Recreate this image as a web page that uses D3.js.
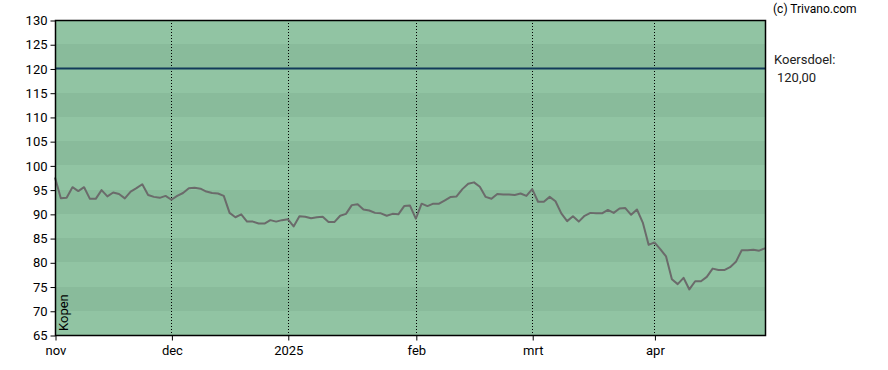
<html>
<head>
	<meta charset="UTF-8">
	<title>Koers</title>
	<script src="https://cdn.jsdelivr.net/npm/d3@7"></script>
	<style>
		body { padding: 0; margin: 0; background: #fff; }
		text { font-family: Roboto, "Liberation Sans", sans-serif; }
	</style>
</head>
<body>
	<script>
		var w = 888,
			h = 370,
			margin = { top: 20, right: 123, bottom: 35, left: 55 };

		// koers per handelsdag (nov 2024 - apr 2025)
		var prices = [
			97.5, 93.2, 93.3, 95.5, 94.7, 95.5, 93.1, 93.1, 94.9, 93.6,
			94.4, 94.1, 93.2, 94.6, 95.3, 96.1, 93.9, 93.5, 93.3, 93.7,
			92.9, 93.7, 94.3, 95.3, 95.4, 95.2, 94.6, 94.3, 94.2, 93.7,
			90.2, 89.3, 89.9, 88.4, 88.4, 88.0, 88.0, 88.7, 88.4, 88.7,
			88.9, 87.4, 89.5, 89.4, 89.1, 89.3, 89.4, 88.3, 88.3, 89.6,
			90.0, 91.8, 92.0, 90.9, 90.7, 90.2, 90.1, 89.6, 90.0, 89.9,
			91.6, 91.7, 89.0, 92.1, 91.6, 92.1, 92.1, 92.8, 93.5, 93.6,
			95.1, 96.2, 96.5, 95.6, 93.5, 93.1, 94.1, 94.0, 94.0, 93.9,
			94.2, 93.7, 95.1, 92.5, 92.5, 93.5, 92.6, 90.1, 88.5, 89.5,
			88.4, 89.6, 90.2, 90.1, 90.1, 90.8, 90.2, 91.1, 91.2, 89.8,
			90.9, 88.2, 83.6, 84.1, 82.7, 81.2, 76.5, 75.5, 76.8, 74.4,
			76.1, 76.1, 77.0, 78.7, 78.4, 78.4, 79.0, 80.1, 82.5, 82.5,
			82.6, 82.4, 82.9
		];

		var monthLabels = ["nov", "dec", "2025", "feb", "mrt", "apr"];
		var monthIndex = [0, 20, 40, 62, 82, 103];

		var yTicks = [65, 70, 75, 80, 85, 90, 95, 100, 105, 110, 115, 120, 125, 130];
		var target = 120;
		var advice = "Kopen";

		var x = d3.scaleLinear()
			.domain([0, prices.length - 1])
			.range([margin.left, w - margin.right]);
		var y = d3.scaleLinear()
			.domain([65, 130])
			.range([h - margin.bottom, margin.top]);

		var svg = d3.select("body").append("svg")
			.attr("width", w)
			.attr("height", h);

		// achtergrond + donkere banden van 5
		svg.append("rect")
			.attr("x", margin.left)
			.attr("y", margin.top)
			.attr("width", x.range()[1] - margin.left)
			.attr("height", h - margin.bottom - margin.top)
			.attr("fill", "#91c4a3");

		var bands = [70, 80, 90, 100, 110, 120];
		svg.selectAll("rect.band")
			.data(bands)
			.enter().append("rect")
			.attr("class", "band")
			.attr("shape-rendering", "crispEdges")
			.attr("x", margin.left)
			.attr("width", x.range()[1] - margin.left)
			.attr("y", function (d) { return Math.round(y(d + 5)); })
			.attr("height", function (d) { return Math.round(y(d)) - Math.round(y(d + 5)); })
			.attr("fill", "#89bb9b");

		// maand lijnen
		svg.selectAll("line.month")
			.data(monthIndex.slice(1))
			.enter().append("line")
			.attr("x1", function (d) { return Math.round(x(d)) + 0.5; })
			.attr("x2", function (d) { return Math.round(x(d)) + 0.5; })
			.attr("y1", margin.top)
			.attr("y2", h - margin.bottom)
			.attr("stroke", "#000")
			.attr("stroke-width", 1)
			.attr("stroke-dasharray", "1,2");

		// koersdoel
		svg.append("line")
			.attr("x1", margin.left)
			.attr("x2", x.range()[1])
			.attr("y1", y(target))
			.attr("y2", y(target))
			.attr("stroke", "#123a5a")
			.attr("stroke-width", 2);

		var line = d3.line()
			.x(function (d, i) { return x(i); })
			.y(function (d) { return y(d); });

		svg.append("path")
			.datum(prices)
			.attr("d", line)
			.attr("fill", "none")
			.attr("stroke", "#6b6b6b")
			.attr("stroke-width", 2)
			.attr("stroke-linejoin", "round");

		// frame
		svg.append("rect")
			.attr("x", margin.left + 0.5)
			.attr("y", margin.top + 0.5)
			.attr("width", x.range()[1] - margin.left)
			.attr("height", h - margin.bottom - margin.top)
			.attr("fill", "none")
			.attr("stroke", "#000")
			.attr("stroke-width", 1.5);

		var yAxis = d3.axisLeft(y).tickValues(yTicks).tickSize(5).tickPadding(3);
		var gy = svg.append("g")
			.attr("transform", "translate(" + (margin.left + 0.5) + ",0.5)")
			.call(yAxis);
		gy.select(".domain").remove();
		gy.selectAll("text").attr("font-size", 13).attr("fill", "#000")
			.attr("font-family", "Roboto, sans-serif");

		var xAxis = d3.axisBottom(x).tickValues(monthIndex)
			.tickFormat(function (d, i) { return monthLabels[i]; })
			.tickSize(5).tickPadding(5);
		var gx = svg.append("g")
			.attr("transform", "translate(0.5," + (h - margin.bottom + 0.5) + ")")
			.call(xAxis);
		gx.select(".domain").remove();
		gx.selectAll("text").attr("font-size", 13).attr("fill", "#000")
			.attr("font-family", "Roboto, sans-serif");

		svg.append("text")
			.attr("transform", "translate(68,331) rotate(-90)")
			.attr("font-size", 13)
			.text(advice);

		svg.append("text")
			.attr("x", 773).attr("y", 13)
			.attr("font-size", 12)
			.text("(c) Trivano.com");

		svg.append("text")
			.attr("x", 774).attr("y", 64)
			.attr("font-size", 13)
			.attr("fill", "#222")
			.text("Koersdoel:");

		svg.append("text")
			.attr("x", 777).attr("y", 82)
			.attr("font-size", 13)
			.attr("fill", "#222")
			.text(d3.format(".2f")(target).replace(".", ","));
	</script>
</body>
</html>
